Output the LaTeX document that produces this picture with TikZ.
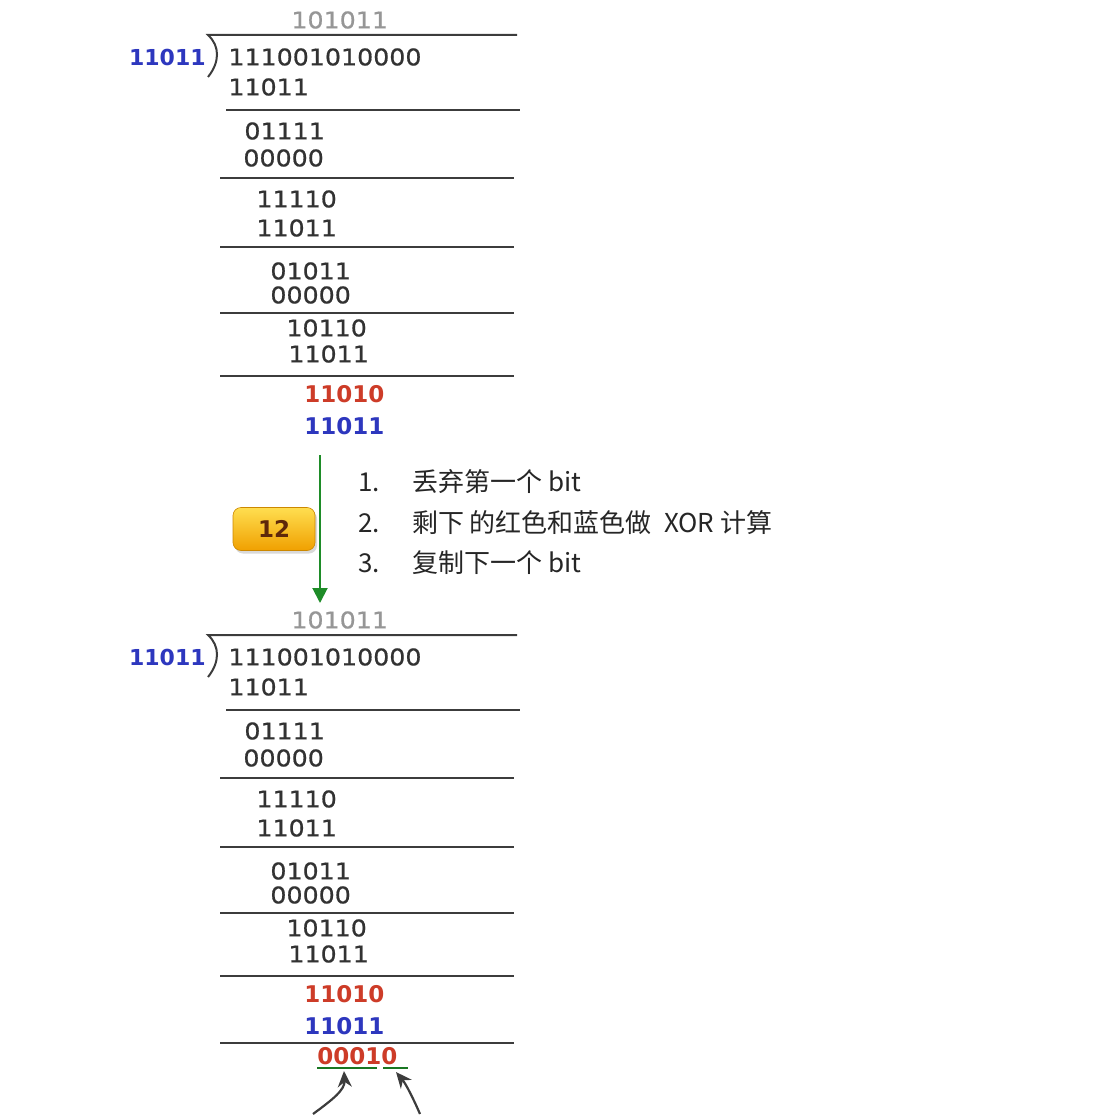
\documentclass[tikz,border=0pt]{standalone}
\usepackage{fontspec}
\usetikzlibrary{positioning,arrows.meta,shadows}
\newfontfamily\bitfont{DejaVu Sans}[FakeStretch=1.1,FakeBold=0.7]
\newfontfamily\bitbold{DejaVu Sans}
\newfontfamily\cjk{Noto Sans CJK SC}
\definecolor{rulegray}{RGB}{60,60,60}
\definecolor{digitgray}{RGB}{50,50,50}
\definecolor{quotgray}{RGB}{150,150,150}
\definecolor{crcblue}{RGB}{45,55,190}
\definecolor{crcred}{RGB}{205,60,40}
\definecolor{stepgreen}{RGB}{30,140,40}
\definecolor{boxtop}{RGB}{255,222,80}
\definecolor{boxbot}{RGB}{240,160,0}
\definecolor{boxtext}{RGB}{95,40,10}
\tikzset{
  bits/.style={anchor=west, inner sep=0pt, text=digitgray,
    font=\bitfont\fontsize{11.5}{13}\selectfont},
  quotbits/.style={bits, text=quotgray},
  redbits/.style={bits, text=crcred, font=\bitbold\bfseries\fontsize{11.5}{13}\selectfont},
  bluebits/.style={bits, text=crcblue, font=\bitbold\bfseries\fontsize{11.5}{13}\selectfont},
  divrule/.style={draw=rulegray, line width=1pt},
  itemnum/.style={anchor=west, inner sep=0pt, text=black!85,
    font=\cjk\fontsize{13}{15}\selectfont},
  itemtext/.style={itemnum, right=16pt of #1},
}
\begin{document}
\begin{tikzpicture}[x=0.5pt,y=-0.5pt]
\useasboundingbox (0,0) rectangle (1108,1118);
% the same division, before and after the step
\foreach \off/\t in {0/a,600/b}{
  \node[quotbits] (quot-\t) at (291,20+\off) {101011};
  \node[bluebits, anchor=east, font=\bitbold\bfseries\fontsize{11}{13}\selectfont]
       (poly-\t) at (206,57+\off) {11011};
  \node[bits] (msg-\t) at (228,57+\off) {111001010000};
  \draw[divrule] (208,77+\off) .. controls (220,62+\off) and (220,46+\off) .. (208,35+\off) -- (517,35+\off);
  \node[bits] (s1-\t) at (228,87+\off) {11011};
  \node[bits] (r1-\t) at (244,131+\off) {01111};
  \node[bits] (s2-\t) at (243,158+\off) {00000};
  \node[bits] (r2-\t) at (256,199+\off) {11110};
  \node[bits] (s3-\t) at (256,228+\off) {11011};
  \node[bits] (r3-\t) at (270,271+\off) {01011};
  \node[bits] (s4-\t) at (270,295+\off) {00000};
  \node[bits] (r4-\t) at (286,328+\off) {10110};
  \node[bits] (s5-\t) at (288,354+\off) {11011};
  \node[redbits] (r5-\t) at (304,394+\off) {11010};
  \node[bluebits] (s6-\t) at (304,426+\off) {11011};
  \foreach \y/\l/\r in {110/226/520,178/220/514,247/220/514,313/220/514,376/220/514}
    \draw[divrule] (\l,\y+\off) -- (\r,\y+\off);
}
% result of the step
\draw[divrule] (220,1043) -- (514,1043);
\node[redbits] (rest) at (317,1056) {00010};
\coordinate (u1l) at (317,1068);
\coordinate (u1r) at (377,1068);
\coordinate (u2l) at (383,1068);
\coordinate (u2r) at (408,1068);
\draw[draw=stepgreen!85!black, line width=1pt] (u1l) -- (u1r);
\draw[draw=stepgreen!85!black, line width=1pt] (u2l) -- (u2r);
\coordinate (p1) at (313,1114);
\coordinate (t1) at (344,1071);
\coordinate (p2) at (420,1114);
\coordinate (t2) at (396,1072);
\draw[rulegray, line width=1.1pt, -{Stealth[length=8pt,width=7pt]}]
   (p1) .. controls (332,1100) and (345,1090) .. (t1);
\draw[rulegray, line width=1.1pt, -{Stealth[length=8pt,width=7pt]}]
   (p2) .. controls (414,1100) and (406,1084) .. (t2);
% step arrow and its number
\coordinate (arr-top) at (320,455);
\coordinate (arr-tip) at (320,603);
\draw[stepgreen, line width=1pt, -{Triangle[width=7.5pt,length=7.5pt]}] (arr-top) -- (arr-tip);
\node[rounded corners=4pt, top color=boxtop, bottom color=boxbot, draw=boxbot!85!black,
      line width=0.3pt, minimum width=41pt, minimum height=21.5pt, text=boxtext,
      font=\bitbold\bfseries\fontsize{11.5}{13}\selectfont,
      drop shadow={opacity=0.3, shadow xshift=1pt, shadow yshift=-1.5pt}]
   (stepno) at (274,529) {12};
\node[itemnum] (n1) at (358,482) {1.};
\node[itemnum] (n2) at (358,523) {2.};
\node[itemnum] (n3) at (358,563) {3.};
\node[itemtext=n1] (i1) {丢弃第一个 bit};
\node[itemtext=n2] (i2) {剩下\,的红色和蓝色做\enspace XOR 计算};
\node[itemtext=n3] (i3) {复制下一个 bit};
\end{tikzpicture}
\end{document}
